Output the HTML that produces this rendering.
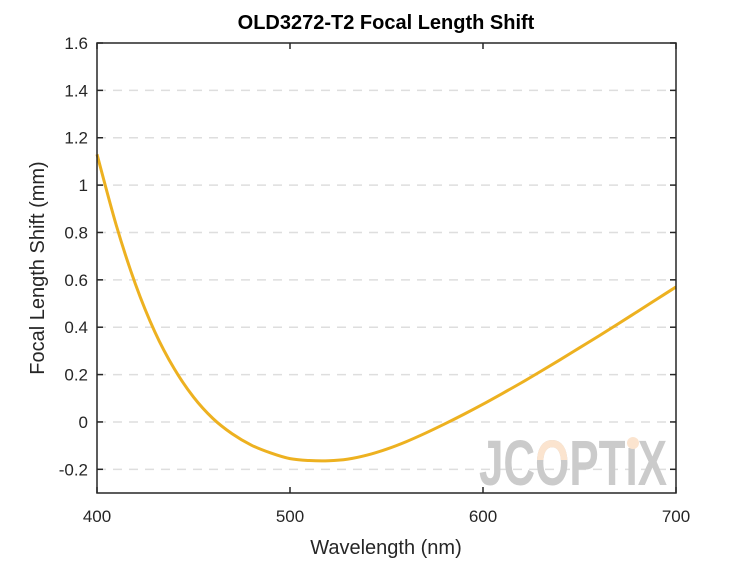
<!DOCTYPE html>
<html><head><meta charset="utf-8"><style>
body{margin:0;background:#fff;}
svg text{font-family:"Liberation Sans",Arial,sans-serif;}
</style></head><body>
<svg width="747" height="560" xmlns="http://www.w3.org/2000/svg">
<defs><clipPath id="oclip"><rect x="536" y="430" width="34" height="30"/></clipPath></defs>
<rect width="747" height="560" fill="#fff"/>
<g id="grid"></g>
<g font-size="64" font-weight="bold">
<text x="479" y="485" fill="#cbcbcb" textLength="188" lengthAdjust="spacingAndGlyphs">JCOPTIX</text>
<text x="479" y="485" fill="#fbe4cf" textLength="188" lengthAdjust="spacingAndGlyphs" clip-path="url(#oclip)">JCOPTIX</text>
<rect x="627" y="436" width="12" height="12" fill="#fff"/>
<circle cx="633" cy="443" r="6" fill="#fbe4cf"/>
</g>
<path id="curve" fill="none" stroke="#EDB120" stroke-width="3"/>
<rect x="97" y="43" width="579" height="450" fill="none" stroke="#262626" stroke-width="1.5"/>
<g id="ticks"></g>
<text x="386" y="29" text-anchor="middle" font-size="20" font-weight="bold" fill="#000">OLD3272-T2 Focal Length Shift</text>
<text x="386" y="554" text-anchor="middle" font-size="20" fill="#262626">Wavelength (nm)</text>
<text transform="translate(44,268) rotate(-90)" text-anchor="middle" font-size="20" fill="#262626">Focal Length Shift (mm)</text>
</svg>
<script>
const wavelengths=[400,410,420,430,440,450,460,470,480,490,500,510,520,530,540,550,560,570,580,590,600,610,620,630,640,650,660,670,680,690,700];
const shifts=[1.13,0.83,0.58,0.38,0.225,0.105,0.015,-0.05,-0.098,-0.131,-0.155,-0.163,-0.164,-0.157,-0.14,-0.115,-0.084,-0.048,-0.009,0.032,0.075,0.12,0.166,0.214,0.263,0.313,0.363,0.414,0.466,0.518,0.57];
const xTicks=[400,500,600,700];
const yTicks=[-0.2,0,0.2,0.4,0.6,0.8,1,1.2,1.4,1.6];
const yLabels=["-0.2","0","0.2","0.4","0.6","0.8","1","1.2","1.4","1.6"];
const X0=97,X1=676,Y0=493,Y1=43,xmin=400,xmax=700,ymin=-0.3,ymax=1.6;
const sx=v=>X0+(v-xmin)/(xmax-xmin)*(X1-X0);
const sy=v=>Y0-(v-ymin)/(ymax-ymin)*(Y0-Y1);
const NS="http://www.w3.org/2000/svg";
const grid=document.getElementById('grid'),ticks=document.getElementById('ticks');
yTicks.forEach((v,i)=>{
 const y=sy(v);
 if(v<1.6){const l=document.createElementNS(NS,'line');
 l.setAttribute('x1',X0);l.setAttribute('x2',X1);l.setAttribute('y1',y);l.setAttribute('y2',y);
 l.setAttribute('stroke','#dedede');l.setAttribute('stroke-width','1.5');l.setAttribute('stroke-dasharray','9,7');
 
 
 grid.appendChild(l);}
 [[X0,X0+6],[X1-6,X1]].forEach(p=>{const t=document.createElementNS(NS,'line');
 t.setAttribute('x1',p[0]);t.setAttribute('x2',p[1]);t.setAttribute('y1',y);t.setAttribute('y2',y);t.setAttribute('stroke','#262626');t.setAttribute('stroke-width','1.5');
 
 
 ticks.appendChild(t);});
 const tx=document.createElementNS(NS,'text');
 tx.setAttribute('x',X0-9);tx.setAttribute('y',y+6);tx.setAttribute('text-anchor','end');tx.setAttribute('font-size','17');tx.setAttribute('fill','#262626');
 tx.textContent=yLabels[i];
 
 
 ticks.appendChild(tx);
});
xTicks.forEach(v=>{
 const x=sx(v);
 [[Y0,Y0-6],[Y1,Y1+6]].forEach(p=>{const t=document.createElementNS(NS,'line');
 t.setAttribute('x1',x);t.setAttribute('x2',x);t.setAttribute('y1',p[0]);t.setAttribute('y2',p[1]);t.setAttribute('stroke','#262626');t.setAttribute('stroke-width','1.5');
 
 
 ticks.appendChild(t);});
 const tx=document.createElementNS(NS,'text');
 tx.setAttribute('x',x);tx.setAttribute('y',Y0+29);tx.setAttribute('text-anchor','middle');tx.setAttribute('font-size','17');tx.setAttribute('fill','#262626');
 tx.textContent=v;
 
 
 ticks.appendChild(tx);
});
const pts=wavelengths.map((w,i)=>[sx(w),sy(shifts[i])]);
let d='M'+pts[0][0]+','+pts[0][1];
for(let i=0;i<pts.length-1;i++){
 const p0=pts[Math.max(0,i-1)],p1=pts[i],p2=pts[i+1],p3=pts[Math.min(pts.length-1,i+2)];
 const c1=[p1[0]+(p2[0]-p0[0])/6,p1[1]+(p2[1]-p0[1])/6];
 const c2=[p2[0]-(p3[0]-p1[0])/6,p2[1]-(p3[1]-p1[1])/6];
 d+=' C'+c1+' '+c2+' '+p2;
}
document.getElementById('curve').setAttribute('d',d);
</script>
</body></html>
